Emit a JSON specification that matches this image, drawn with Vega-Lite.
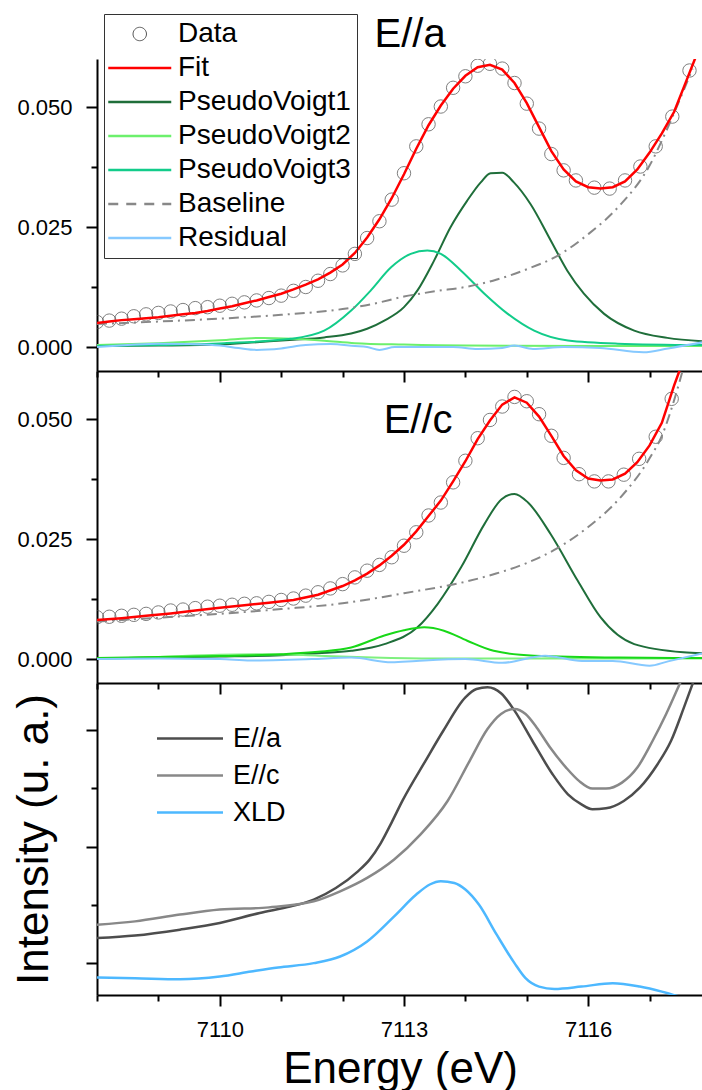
{
  "$schema": "https://vega.github.io/schema/vega-lite/v6.json",
  "padding": {"left": 11, "top": 13, "right": 0, "bottom": 0},
  "spacing": 0,
  "bounds": "flush",
  "config": {
    "font": "Liberation Sans",
    "view": {"stroke": null},
    "axis": {
      "domainColor": "black", "domainWidth": 2, "tickColor": "black", "tickWidth": 2,
      "labelFont": "Liberation Sans", "labelFontSize": 22, "labelColor": "black",
      "titleFont": "Liberation Sans", "titleFontSize": 44, "titleFontWeight": "normal", "titleColor": "black",
      "grid": false
    }
  },
  "resolve": {"scale": {"y": "independent", "color": "independent"}},
  "datasets": {
    "p1": [
      {"s":"Data","E":7108.0,"v":0.0052},{"s":"Data","E":7108.2,"v":0.0055},{"s":"Data","E":7108.4,"v":0.0059},{"s":"Data","E":7108.6,"v":0.0064},{"s":"Data","E":7108.8,"v":0.0068},{"s":"Data","E":7109.0,"v":0.0071},{"s":"Data","E":7109.2,"v":0.0074},{"s":"Data","E":7109.4,"v":0.0077},{"s":"Data","E":7109.6,"v":0.0081},{"s":"Data","E":7109.8,"v":0.0083},{"s":"Data","E":7110.0,"v":0.0086},{"s":"Data","E":7110.2,"v":0.0090},{"s":"Data","E":7110.4,"v":0.0093},{"s":"Data","E":7110.6,"v":0.0097},{"s":"Data","E":7110.8,"v":0.0102},{"s":"Data","E":7111.0,"v":0.0107},{"s":"Data","E":7111.2,"v":0.0117},{"s":"Data","E":7111.4,"v":0.0125},{"s":"Data","E":7111.6,"v":0.0138},{"s":"Data","E":7111.8,"v":0.0152},{"s":"Data","E":7112.0,"v":0.0170},{"s":"Data","E":7112.2,"v":0.0194},{"s":"Data","E":7112.4,"v":0.0227},{"s":"Data","E":7112.6,"v":0.0262},{"s":"Data","E":7112.8,"v":0.0307},{"s":"Data","E":7113.0,"v":0.0362},{"s":"Data","E":7113.2,"v":0.0418},{"s":"Data","E":7113.4,"v":0.0464},{"s":"Data","E":7113.6,"v":0.0501},{"s":"Data","E":7113.8,"v":0.0540},{"s":"Data","E":7114.0,"v":0.0564},{"s":"Data","E":7114.2,"v":0.0586},{"s":"Data","E":7114.4,"v":0.0590},{"s":"Data","E":7114.6,"v":0.0580},{"s":"Data","E":7114.8,"v":0.0550},{"s":"Data","E":7115.0,"v":0.0507},{"s":"Data","E":7115.2,"v":0.0455},{"s":"Data","E":7115.4,"v":0.0402},{"s":"Data","E":7115.6,"v":0.0368},{"s":"Data","E":7115.8,"v":0.0347},{"s":"Data","E":7116.1,"v":0.0332},{"s":"Data","E":7116.35,"v":0.0330},{"s":"Data","E":7116.6,"v":0.0347},{"s":"Data","E":7116.85,"v":0.0376},{"s":"Data","E":7117.1,"v":0.0418},{"s":"Data","E":7117.37,"v":0.0480},{"s":"Data","E":7117.65,"v":0.0576},
      {"s":"Fit","E":7108.0,"v":0.0050},{"s":"Fit","E":7108.2,"v":0.0053},{"s":"Fit","E":7108.4,"v":0.0056},{"s":"Fit","E":7108.6,"v":0.0058},{"s":"Fit","E":7108.8,"v":0.0060},{"s":"Fit","E":7109.0,"v":0.0062},{"s":"Fit","E":7109.2,"v":0.0065},{"s":"Fit","E":7109.4,"v":0.0068},{"s":"Fit","E":7109.6,"v":0.0071},{"s":"Fit","E":7109.8,"v":0.0075},{"s":"Fit","E":7110.0,"v":0.0080},{"s":"Fit","E":7110.2,"v":0.0085},{"s":"Fit","E":7110.4,"v":0.0091},{"s":"Fit","E":7110.6,"v":0.0097},{"s":"Fit","E":7110.8,"v":0.0104},{"s":"Fit","E":7111.0,"v":0.0111},{"s":"Fit","E":7111.2,"v":0.0120},{"s":"Fit","E":7111.4,"v":0.0130},{"s":"Fit","E":7111.6,"v":0.0141},{"s":"Fit","E":7111.8,"v":0.0155},{"s":"Fit","E":7112.0,"v":0.0172},{"s":"Fit","E":7112.2,"v":0.0196},{"s":"Fit","E":7112.4,"v":0.0228},{"s":"Fit","E":7112.6,"v":0.0266},{"s":"Fit","E":7112.8,"v":0.0310},{"s":"Fit","E":7113.0,"v":0.0360},{"s":"Fit","E":7113.2,"v":0.0413},{"s":"Fit","E":7113.4,"v":0.0462},{"s":"Fit","E":7113.6,"v":0.0503},{"s":"Fit","E":7113.8,"v":0.0538},{"s":"Fit","E":7114.0,"v":0.0565},{"s":"Fit","E":7114.2,"v":0.0583},{"s":"Fit","E":7114.4,"v":0.0588},{"s":"Fit","E":7114.6,"v":0.0578},{"s":"Fit","E":7114.8,"v":0.0550},{"s":"Fit","E":7115.0,"v":0.0508},{"s":"Fit","E":7115.2,"v":0.0458},{"s":"Fit","E":7115.4,"v":0.0408},{"s":"Fit","E":7115.6,"v":0.0370},{"s":"Fit","E":7115.8,"v":0.0345},{"s":"Fit","E":7116.0,"v":0.0333},{"s":"Fit","E":7116.2,"v":0.0330},{"s":"Fit","E":7116.4,"v":0.0333},{"s":"Fit","E":7116.6,"v":0.0345},{"s":"Fit","E":7116.8,"v":0.0370},{"s":"Fit","E":7117.0,"v":0.0405},{"s":"Fit","E":7117.2,"v":0.0445},{"s":"Fit","E":7117.4,"v":0.0490},{"s":"Fit","E":7117.6,"v":0.0555},{"s":"Fit","E":7117.8,"v":0.0620},
      {"s":"Baseline","E":7108.0,"v":0.0048},{"s":"Baseline","E":7109.0,"v":0.0053},{"s":"Baseline","E":7110.0,"v":0.0059},{"s":"Baseline","E":7111.0,"v":0.0067},{"s":"Baseline","E":7111.5,"v":0.0072},{"s":"Baseline","E":7112.0,"v":0.0079},{"s":"Baseline","E":7112.5,"v":0.0090},{"s":"Baseline","E":7113.0,"v":0.0105},{"s":"Baseline","E":7113.5,"v":0.0116},{"s":"Baseline","E":7114.0,"v":0.0125},{"s":"Baseline","E":7114.5,"v":0.0140},{"s":"Baseline","E":7115.0,"v":0.0162},{"s":"Baseline","E":7115.5,"v":0.0190},{"s":"Baseline","E":7116.0,"v":0.0235},{"s":"Baseline","E":7116.5,"v":0.0293},{"s":"Baseline","E":7117.0,"v":0.0378},{"s":"Baseline","E":7117.25,"v":0.0444},{"s":"Baseline","E":7117.5,"v":0.0518},{"s":"Baseline","E":7117.7,"v":0.0580},
      {"s":"PseudoVoigt1","E":7108.0,"v":0.0002},{"s":"PseudoVoigt1","E":7109.0,"v":0.0003},{"s":"PseudoVoigt1","E":7110.0,"v":0.0005},{"s":"PseudoVoigt1","E":7110.6,"v":0.0010},{"s":"PseudoVoigt1","E":7111.2,"v":0.0015},{"s":"PseudoVoigt1","E":7111.7,"v":0.0020},{"s":"PseudoVoigt1","E":7112.14,"v":0.0028},{"s":"PseudoVoigt1","E":7112.4,"v":0.0038},{"s":"PseudoVoigt1","E":7112.68,"v":0.0055},{"s":"PseudoVoigt1","E":7113.0,"v":0.0083},{"s":"PseudoVoigt1","E":7113.22,"v":0.0118},{"s":"PseudoVoigt1","E":7113.49,"v":0.0180},{"s":"PseudoVoigt1","E":7113.76,"v":0.0250},{"s":"PseudoVoigt1","E":7114.03,"v":0.0305},{"s":"PseudoVoigt1","E":7114.25,"v":0.0343},{"s":"PseudoVoigt1","E":7114.41,"v":0.0362},{"s":"PseudoVoigt1","E":7114.6,"v":0.0363},{"s":"PseudoVoigt1","E":7114.79,"v":0.0343},{"s":"PseudoVoigt1","E":7115.06,"v":0.0298},{"s":"PseudoVoigt1","E":7115.39,"v":0.0222},{"s":"PseudoVoigt1","E":7115.66,"v":0.0159},{"s":"PseudoVoigt1","E":7115.93,"v":0.0111},{"s":"PseudoVoigt1","E":7116.26,"v":0.0069},{"s":"PseudoVoigt1","E":7116.75,"v":0.0034},{"s":"PseudoVoigt1","E":7117.29,"v":0.0019},{"s":"PseudoVoigt1","E":7117.87,"v":0.0012},
      {"s":"PseudoVoigt2","E":7108.0,"v":0.0004},{"s":"PseudoVoigt2","E":7109.0,"v":0.0008},{"s":"PseudoVoigt2","E":7110.0,"v":0.0014},{"s":"PseudoVoigt2","E":7110.7,"v":0.0019},{"s":"PseudoVoigt2","E":7111.2,"v":0.0017},{"s":"PseudoVoigt2","E":7111.7,"v":0.0013},{"s":"PseudoVoigt2","E":7112.2,"v":0.0008},{"s":"PseudoVoigt2","E":7113.0,"v":0.0005},{"s":"PseudoVoigt2","E":7114.0,"v":0.0003},{"s":"PseudoVoigt2","E":7117.87,"v":0.0002},
      {"s":"PseudoVoigt3","E":7108.0,"v":0.0002},{"s":"PseudoVoigt3","E":7109.0,"v":0.0004},{"s":"PseudoVoigt3","E":7110.07,"v":0.0008},{"s":"PseudoVoigt3","E":7111.16,"v":0.0017},{"s":"PseudoVoigt3","E":7111.7,"v":0.0034},{"s":"PseudoVoigt3","E":7112.14,"v":0.0076},{"s":"PseudoVoigt3","E":7112.46,"v":0.0118},{"s":"PseudoVoigt3","E":7112.79,"v":0.0166},{"s":"PseudoVoigt3","E":7113.11,"v":0.0194},{"s":"PseudoVoigt3","E":7113.38,"v":0.0201},{"s":"PseudoVoigt3","E":7113.6,"v":0.0194},{"s":"PseudoVoigt3","E":7113.93,"v":0.0159},{"s":"PseudoVoigt3","E":7114.31,"v":0.0111},{"s":"PseudoVoigt3","E":7114.69,"v":0.0069},{"s":"PseudoVoigt3","E":7115.12,"v":0.0034},{"s":"PseudoVoigt3","E":7115.67,"v":0.00135},{"s":"PseudoVoigt3","E":7116.48,"v":0.0007},{"s":"PseudoVoigt3","E":7117.87,"v":0.0004},
      {"s":"Residual","E":7108.0,"v":0.0000},{"s":"Residual","E":7108.5,"v":0.0004},{"s":"Residual","E":7109.0,"v":0.0007},{"s":"Residual","E":7109.5,"v":0.0006},{"s":"Residual","E":7110.0,"v":0.0003},{"s":"Residual","E":7110.3,"v":-0.0002},{"s":"Residual","E":7110.6,"v":-0.0006},{"s":"Residual","E":7111.0,"v":-0.0003},{"s":"Residual","E":7111.4,"v":0.0004},{"s":"Residual","E":7111.8,"v":0.0006},{"s":"Residual","E":7112.2,"v":0.0002},{"s":"Residual","E":7112.4,"v":0.0000},{"s":"Residual","E":7112.6,"v":-0.0006},{"s":"Residual","E":7112.85,"v":0.0000},{"s":"Residual","E":7113.2,"v":0.0000},{"s":"Residual","E":7113.8,"v":0.0000},{"s":"Residual","E":7114.2,"v":-0.0004},{"s":"Residual","E":7114.6,"v":-0.0002},{"s":"Residual","E":7114.8,"v":0.0003},{"s":"Residual","E":7115.1,"v":-0.0004},{"s":"Residual","E":7115.6,"v":0.0000},{"s":"Residual","E":7116.2,"v":-0.0002},{"s":"Residual","E":7116.9,"v":-0.0011},{"s":"Residual","E":7117.3,"v":-0.0003},{"s":"Residual","E":7117.87,"v":0.0010}
    ],
    "p2": [
      {"s":"Data","E":7108.0,"v":0.0087},{"s":"Data","E":7108.2,"v":0.0088},{"s":"Data","E":7108.4,"v":0.0090},{"s":"Data","E":7108.6,"v":0.0092},{"s":"Data","E":7108.8,"v":0.0094},{"s":"Data","E":7109.0,"v":0.0097},{"s":"Data","E":7109.2,"v":0.0101},{"s":"Data","E":7109.4,"v":0.0103},{"s":"Data","E":7109.6,"v":0.0106},{"s":"Data","E":7109.8,"v":0.0109},{"s":"Data","E":7110.0,"v":0.0111},{"s":"Data","E":7110.2,"v":0.0113},{"s":"Data","E":7110.4,"v":0.0115},{"s":"Data","E":7110.6,"v":0.0116},{"s":"Data","E":7110.8,"v":0.0119},{"s":"Data","E":7111.0,"v":0.0123},{"s":"Data","E":7111.2,"v":0.0126},{"s":"Data","E":7111.4,"v":0.0132},{"s":"Data","E":7111.6,"v":0.0139},{"s":"Data","E":7111.8,"v":0.0147},{"s":"Data","E":7112.0,"v":0.0156},{"s":"Data","E":7112.2,"v":0.0170},{"s":"Data","E":7112.4,"v":0.0184},{"s":"Data","E":7112.6,"v":0.0196},{"s":"Data","E":7112.8,"v":0.0212},{"s":"Data","E":7113.0,"v":0.0236},{"s":"Data","E":7113.2,"v":0.0264},{"s":"Data","E":7113.4,"v":0.0299},{"s":"Data","E":7113.6,"v":0.0326},{"s":"Data","E":7113.8,"v":0.0368},{"s":"Data","E":7114.0,"v":0.0413},{"s":"Data","E":7114.2,"v":0.0460},{"s":"Data","E":7114.4,"v":0.0498},{"s":"Data","E":7114.6,"v":0.0526},{"s":"Data","E":7114.8,"v":0.0546},{"s":"Data","E":7115.0,"v":0.0537},{"s":"Data","E":7115.2,"v":0.0510},{"s":"Data","E":7115.4,"v":0.0465},{"s":"Data","E":7115.6,"v":0.0419},{"s":"Data","E":7115.85,"v":0.0385},{"s":"Data","E":7116.1,"v":0.0370},{"s":"Data","E":7116.33,"v":0.0370},{"s":"Data","E":7116.58,"v":0.0384},{"s":"Data","E":7116.83,"v":0.0417},{"s":"Data","E":7117.1,"v":0.0463},{"s":"Data","E":7117.36,"v":0.0542},
      {"s":"Fit","E":7108.0,"v":0.0081},{"s":"Fit","E":7108.4,"v":0.0085},{"s":"Fit","E":7108.8,"v":0.0090},{"s":"Fit","E":7109.2,"v":0.0095},{"s":"Fit","E":7109.6,"v":0.0101},{"s":"Fit","E":7110.0,"v":0.0107},{"s":"Fit","E":7110.4,"v":0.0112},{"s":"Fit","E":7110.8,"v":0.0117},{"s":"Fit","E":7111.2,"v":0.0123},{"s":"Fit","E":7111.6,"v":0.0134},{"s":"Fit","E":7112.0,"v":0.0152},{"s":"Fit","E":7112.2,"v":0.0164},{"s":"Fit","E":7112.4,"v":0.0178},{"s":"Fit","E":7112.6,"v":0.0195},{"s":"Fit","E":7112.8,"v":0.0215},{"s":"Fit","E":7113.0,"v":0.0238},{"s":"Fit","E":7113.2,"v":0.0266},{"s":"Fit","E":7113.4,"v":0.0298},{"s":"Fit","E":7113.6,"v":0.0330},{"s":"Fit","E":7113.8,"v":0.0370},{"s":"Fit","E":7114.0,"v":0.0412},{"s":"Fit","E":7114.2,"v":0.0458},{"s":"Fit","E":7114.4,"v":0.0497},{"s":"Fit","E":7114.6,"v":0.0530},{"s":"Fit","E":7114.8,"v":0.0545},{"s":"Fit","E":7115.0,"v":0.0534},{"s":"Fit","E":7115.2,"v":0.0505},{"s":"Fit","E":7115.4,"v":0.0465},{"s":"Fit","E":7115.6,"v":0.0423},{"s":"Fit","E":7115.8,"v":0.0393},{"s":"Fit","E":7116.0,"v":0.0376},{"s":"Fit","E":7116.2,"v":0.0372},{"s":"Fit","E":7116.4,"v":0.0374},{"s":"Fit","E":7116.6,"v":0.0386},{"s":"Fit","E":7116.8,"v":0.0410},{"s":"Fit","E":7117.0,"v":0.0445},{"s":"Fit","E":7117.2,"v":0.0492},{"s":"Fit","E":7117.4,"v":0.0570},{"s":"Fit","E":7117.6,"v":0.0640},
      {"s":"Baseline","E":7108.0,"v":0.0078},{"s":"Baseline","E":7109.0,"v":0.0086},{"s":"Baseline","E":7110.0,"v":0.0094},{"s":"Baseline","E":7111.0,"v":0.0104},{"s":"Baseline","E":7112.0,"v":0.0116},{"s":"Baseline","E":7113.0,"v":0.0137},{"s":"Baseline","E":7114.0,"v":0.0161},{"s":"Baseline","E":7114.5,"v":0.0178},{"s":"Baseline","E":7115.0,"v":0.0200},{"s":"Baseline","E":7115.5,"v":0.0231},{"s":"Baseline","E":7116.0,"v":0.0275},{"s":"Baseline","E":7116.5,"v":0.0333},{"s":"Baseline","E":7117.0,"v":0.0418},{"s":"Baseline","E":7117.2,"v":0.0465},{"s":"Baseline","E":7117.43,"v":0.0552},{"s":"Baseline","E":7117.6,"v":0.0630},
      {"s":"PV1","E":7108.0,"v":0.0001},{"s":"PV1","E":7109.0,"v":0.0003},{"s":"PV1","E":7110.0,"v":0.0005},{"s":"PV1","E":7111.0,"v":0.0008},{"s":"PV1","E":7111.6,"v":0.0012},{"s":"PV1","E":7112.14,"v":0.0017},{"s":"PV1","E":7112.68,"v":0.0031},{"s":"PV1","E":7113.22,"v":0.0066},{"s":"PV1","E":7113.55,"v":0.0115},{"s":"PV1","E":7113.93,"v":0.0191},{"s":"PV1","E":7114.31,"v":0.0281},{"s":"PV1","E":7114.59,"v":0.0333},{"s":"PV1","E":7114.8,"v":0.0344},{"s":"PV1","E":7115.02,"v":0.0326},{"s":"PV1","E":7115.39,"v":0.0260},{"s":"PV1","E":7115.83,"v":0.0163},{"s":"PV1","E":7116.2,"v":0.0087},{"s":"PV1","E":7116.75,"v":0.0031},{"s":"PV1","E":7117.55,"v":0.0014},{"s":"PV1","E":7117.87,"v":0.0012},
      {"s":"PV2","E":7108.0,"v":0.0000},{"s":"PV2","E":7109.0,"v":0.0004},{"s":"PV2","E":7110.0,"v":0.0009},{"s":"PV2","E":7110.8,"v":0.0010},{"s":"PV2","E":7111.6,"v":0.0007},{"s":"PV2","E":7112.5,"v":0.0003},{"s":"PV2","E":7113.5,"v":0.0001},{"s":"PV2","E":7117.87,"v":0.0001},
      {"s":"PV3","E":7108.0,"v":0.0002},{"s":"PV3","E":7109.0,"v":0.0004},{"s":"PV3","E":7110.0,"v":0.0006},{"s":"PV3","E":7111.0,"v":0.0010},{"s":"PV3","E":7111.6,"v":0.0015},{"s":"PV3","E":7112.14,"v":0.0024},{"s":"PV3","E":7112.68,"v":0.0049},{"s":"PV3","E":7113.0,"v":0.0060},{"s":"PV3","E":7113.33,"v":0.0066},{"s":"PV3","E":7113.65,"v":0.0059},{"s":"PV3","E":7114.03,"v":0.0038},{"s":"PV3","E":7114.46,"v":0.0017},{"s":"PV3","E":7115.12,"v":0.0007},{"s":"PV3","E":7116.5,"v":0.0003},{"s":"PV3","E":7117.87,"v":0.0002},
      {"s":"Residual","E":7108.0,"v":0.0000},{"s":"Residual","E":7109.0,"v":0.0001},{"s":"Residual","E":7110.0,"v":0.0000},{"s":"Residual","E":7110.5,"v":-0.0003},{"s":"Residual","E":7111.0,"v":-0.0002},{"s":"Residual","E":7111.5,"v":0.0000},{"s":"Residual","E":7112.14,"v":0.0003},{"s":"Residual","E":7112.8,"v":-0.0007},{"s":"Residual","E":7113.2,"v":-0.0004},{"s":"Residual","E":7114.0,"v":0.0000},{"s":"Residual","E":7114.6,"v":-0.0008},{"s":"Residual","E":7115.3,"v":0.0007},{"s":"Residual","E":7115.9,"v":-0.0004},{"s":"Residual","E":7116.4,"v":-0.0004},{"s":"Residual","E":7117.0,"v":-0.0014},{"s":"Residual","E":7117.3,"v":-0.0005},{"s":"Residual","E":7117.87,"v":0.0012}
    ],
    "p3": [
      {"s":"E//a","E":7108.0,"u":0.218},{"s":"E//a","E":7108.62,"u":0.24},{"s":"E//a","E":7109.35,"u":0.29},{"s":"E//a","E":7110.0,"u":0.347},{"s":"E//a","E":7110.65,"u":0.433},{"s":"E//a","E":7111.16,"u":0.49},{"s":"E//a","E":7111.53,"u":0.548},{"s":"E//a","E":7111.89,"u":0.647},{"s":"E//a","E":7112.25,"u":0.79},{"s":"E//a","E":7112.44,"u":0.89},{"s":"E//a","E":7112.62,"u":1.03},{"s":"E//a","E":7112.8,"u":1.21},{"s":"E//a","E":7112.98,"u":1.40},{"s":"E//a","E":7113.35,"u":1.737},{"s":"E//a","E":7113.64,"u":1.995},{"s":"E//a","E":7114.0,"u":2.281},{"s":"E//a","E":7114.18,"u":2.353},{"s":"E//a","E":7114.36,"u":2.367},{"s":"E//a","E":7114.58,"u":2.316},{"s":"E//a","E":7114.8,"u":2.167},{"s":"E//a","E":7115.09,"u":1.909},{"s":"E//a","E":7115.42,"u":1.622},{"s":"E//a","E":7115.67,"u":1.45},{"s":"E//a","E":7115.89,"u":1.364},{"s":"E//a","E":7116.07,"u":1.322},{"s":"E//a","E":7116.29,"u":1.33},{"s":"E//a","E":7116.58,"u":1.393},{"s":"E//a","E":7116.84,"u":1.507},{"s":"E//a","E":7117.13,"u":1.708},{"s":"E//a","E":7117.35,"u":1.909},{"s":"E//a","E":7117.56,"u":2.195},{"s":"E//a","E":7117.72,"u":2.425},{"s":"E//a","E":7117.87,"u":2.65},
      {"s":"E//c","E":7108.0,"u":0.333},{"s":"E//c","E":7108.62,"u":0.361},{"s":"E//c","E":7109.35,"u":0.419},{"s":"E//c","E":7110.0,"u":0.462},{"s":"E//c","E":7110.8,"u":0.481},{"s":"E//c","E":7111.53,"u":0.533},{"s":"E//c","E":7111.96,"u":0.619},{"s":"E//c","E":7112.4,"u":0.734},{"s":"E//c","E":7112.84,"u":0.892},{"s":"E//c","E":7113.27,"u":1.107},{"s":"E//c","E":7113.71,"u":1.393},{"s":"E//c","E":7114.07,"u":1.737},{"s":"E//c","E":7114.36,"u":2.009},{"s":"E//c","E":7114.58,"u":2.138},{"s":"E//c","E":7114.8,"u":2.181},{"s":"E//c","E":7114.98,"u":2.138},{"s":"E//c","E":7115.16,"u":2.023},{"s":"E//c","E":7115.38,"u":1.851},{"s":"E//c","E":7115.64,"u":1.679},{"s":"E//c","E":7115.85,"u":1.565},{"s":"E//c","E":7116.07,"u":1.499},{"s":"E//c","E":7116.29,"u":1.499},{"s":"E//c","E":7116.55,"u":1.55},{"s":"E//c","E":7116.8,"u":1.679},{"s":"E//c","E":7117.05,"u":1.909},{"s":"E//c","E":7117.27,"u":2.138},{"s":"E//c","E":7117.49,"u":2.396},{"s":"E//c","E":7117.7,"u":2.65},
      {"s":"XLD","E":7108.0,"u":-0.12},{"s":"XLD","E":7108.62,"u":-0.126},{"s":"XLD","E":7109.35,"u":-0.135},{"s":"XLD","E":7110.0,"u":-0.112},{"s":"XLD","E":7110.51,"u":-0.069},{"s":"XLD","E":7110.95,"u":-0.034},{"s":"XLD","E":7111.53,"u":0.003},{"s":"XLD","E":7111.96,"u":0.06},{"s":"XLD","E":7112.4,"u":0.189},{"s":"XLD","E":7112.84,"u":0.404},{"s":"XLD","E":7113.2,"u":0.591},{"s":"XLD","E":7113.42,"u":0.677},{"s":"XLD","E":7113.6,"u":0.705},{"s":"XLD","E":7113.82,"u":0.69},{"s":"XLD","E":7114.0,"u":0.634},{"s":"XLD","E":7114.22,"u":0.505},{"s":"XLD","E":7114.51,"u":0.247},{"s":"XLD","E":7114.8,"u":0.003},{"s":"XLD","E":7114.98,"u":-0.126},{"s":"XLD","E":7115.2,"u":-0.198},{"s":"XLD","E":7115.45,"u":-0.218},{"s":"XLD","E":7115.89,"u":-0.198},{"s":"XLD","E":7116.4,"u":-0.169},{"s":"XLD","E":7116.84,"u":-0.198},{"s":"XLD","E":7117.2,"u":-0.241},{"s":"XLD","E":7117.49,"u":-0.284}
    ]
  },
  "vconcat": [
    {
      "width": 606, "height": 312,
      "data": {"name": "p1"},
      "encoding": {
        "x": {"field": "E", "type": "quantitative", "scale": {"domain": [7108, 7117.87], "nice": false, "zero": false},
              "axis": {"title": null, "labels": false, "values": [7108,7109,7110,7111,7112,7113,7114,7115,7116,7117],
                       "tickSize": {"condition": {"test": "(datum.value - 7110) % 3 === 0", "value": 11}, "value": 6}}},
        "y": {"field": "v", "type": "quantitative", "scale": {"domain": [-0.005, 0.06], "nice": false, "zero": false},
              "axis": {"title": null, "values": [0, 0.0125, 0.025, 0.0375, 0.05], "format": ".3f", "labelPadding": 14,
                       "labelExpr": "round(datum.value*1000) % 25 === 0 ? datum.label : ''",
                       "tickSize": {"condition": {"test": "round(datum.value*1000) % 25 === 0", "value": 11}, "value": 6}}},
        "color": {"field": "s", "type": "nominal",
                  "scale": {"domain": ["Data","Fit","PseudoVoigt1","PseudoVoigt2","PseudoVoigt3","Baseline","Residual"],
                            "range": ["#555555","#ff0000","#1f6e3a","#6cf06c","#12cc8a","#888888","#86c9ff"]},
                  "legend": {"orient": "none", "legendX": 7, "legendY": -45, "title": null,
                             "strokeColor": "#333333", "padding": 6, "labelFontSize": 28, "labelFont": "Liberation Sans", "labelColor": "black", "labelLimit": 400,
                             "symbolSize": 441, "symbolStrokeWidth": 2.5, "rowPadding": 6, "labelOffset": 40,
                             "symbolType": "M-1.5,0H4.5",
                             "encode": {"symbols": {"update": {
                               "shape": {"signal": "datum.value === 'Data' ? 'M2.14,0A0.64,0.64,0,1,1,0.86,0A0.64,0.64,0,1,1,2.14,0Z' : 'M-1.5,0H4.5'"},
                               "strokeDash": {"signal": "datum.value === 'Baseline' ? [10,8] : [1,0]"},
                               "strokeWidth": {"signal": "datum.value === 'Data' ? 1 : 2.5"},
                               "fill": {"value": "transparent"}
                             }}}}}
      },
      "layer": [
        {"transform": [{"filter": "datum.s === 'Data'"}],
         "mark": {"type": "point", "filled": false, "size": 180, "strokeWidth": 1, "clip": true},
         "encoding": {"color": {"value": "#4a4a4a"}}},
        {"transform": [{"filter": "datum.s === 'PseudoVoigt1' || datum.s === 'PseudoVoigt2' || datum.s === 'PseudoVoigt3' || datum.s === 'Residual'"}],
         "mark": {"type": "line", "strokeWidth": 2, "interpolate": "monotone", "clip": true}},
        {"transform": [{"filter": "datum.s === 'Baseline'"}],
         "mark": {"type": "line", "strokeWidth": 2, "interpolate": "monotone", "strokeDash": [10, 5, 2, 5], "clip": true}},
        {"transform": [{"filter": "datum.s === 'Fit'"}],
         "mark": {"type": "line", "strokeWidth": 2.5, "clip": true}},
        {"transform": [{"filter": "datum.s === 'Data' && datum.E === 7108"}],
         "mark": {"type": "text", "text": "E//a", "fontSize": 40, "font": "Liberation Sans", "align": "center", "baseline": "alphabetic"},
         "encoding": {"x": {"datum": 7113.1}, "y": {"datum": 0.0624}, "color": {"value": "black"}}}
      ]
    },
    {
      "width": 606, "height": 312,
      "data": {"name": "p2"},
      "encoding": {
        "x": {"field": "E", "type": "quantitative", "scale": {"domain": [7108, 7117.87], "nice": false, "zero": false},
              "axis": {"title": null, "labels": false, "values": [7108,7109,7110,7111,7112,7113,7114,7115,7116,7117],
                       "tickSize": {"condition": {"test": "(datum.value - 7110) % 3 === 0", "value": 11}, "value": 6}}},
        "y": {"field": "v", "type": "quantitative", "scale": {"domain": [-0.005, 0.06], "nice": false, "zero": false},
              "axis": {"title": null, "values": [0, 0.0125, 0.025, 0.0375, 0.05], "format": ".3f", "labelPadding": 14,
                       "labelExpr": "round(datum.value*1000) % 25 === 0 ? datum.label : ''",
                       "tickSize": {"condition": {"test": "round(datum.value*1000) % 25 === 0", "value": 11}, "value": 6}}},
        "color": {"field": "s", "type": "nominal",
                  "scale": {"domain": ["Data","Fit","PV1","PV2","PV3","Baseline","Residual"],
                            "range": ["#555555","#ff0000","#1f6e3a","#7ff07f","#18d818","#888888","#86c9ff"]},
                  "legend": null}
      },
      "layer": [
        {"transform": [{"filter": "datum.s === 'Data'"}],
         "mark": {"type": "point", "filled": false, "size": 180, "strokeWidth": 1, "clip": true},
         "encoding": {"color": {"value": "#4a4a4a"}}},
        {"transform": [{"filter": "datum.s === 'PV1' || datum.s === 'PV2' || datum.s === 'PV3' || datum.s === 'Residual'"}],
         "mark": {"type": "line", "strokeWidth": 2, "interpolate": "monotone", "clip": true}},
        {"transform": [{"filter": "datum.s === 'Baseline'"}],
         "mark": {"type": "line", "strokeWidth": 2, "interpolate": "monotone", "strokeDash": [10, 5, 2, 5], "clip": true}},
        {"transform": [{"filter": "datum.s === 'Fit'"}],
         "mark": {"type": "line", "strokeWidth": 2.5, "clip": true}},
        {"transform": [{"filter": "datum.s === 'Data' && datum.E === 7108"}],
         "mark": {"type": "text", "text": "E//c", "fontSize": 40, "font": "Liberation Sans", "align": "center", "baseline": "alphabetic"},
         "encoding": {"x": {"datum": 7113.23}, "y": {"datum": 0.0471}, "color": {"value": "black"}}}
      ]
    },
    {
      "width": 606, "height": 312,
      "data": {"name": "p3"},
      "mark": {"type": "line", "strokeWidth": 2.5, "interpolate": "monotone", "clip": true},
      "encoding": {
        "x": {"field": "E", "type": "quantitative", "scale": {"domain": [7108, 7117.87], "nice": false, "zero": false},
              "axis": {"title": "Energy (eV)", "titlePadding": 7, "labelPadding": 13, "values": [7108,7109,7110,7111,7112,7113,7114,7115,7116,7117],
                       "labelExpr": "(datum.value - 7110) % 3 === 0 ? datum.label : ''", "format": "d",
                       "tickSize": {"condition": {"test": "(datum.value - 7110) % 3 === 0", "value": 11}, "value": 6}}},
        "y": {"field": "u", "type": "quantitative", "scale": {"domain": [-0.27, 2.404], "nice": false, "zero": false},
              "axis": {"title": "Intensity (u. a.)", "titlePadding": 29, "labels": false, "values": [0, 0.5, 1, 1.5, 2],
                       "tickSize": {"condition": {"test": "datum.value % 1 === 0", "value": 11}, "value": 6}}},
        "color": {"field": "s", "type": "nominal",
                  "scale": {"domain": ["E//a","E//c","XLD"], "range": ["#4d4d4d","#888888","#4db8ff"]},
                  "legend": {"orient": "none", "legendX": 63, "legendY": 42, "title": null,
                             "padding": 0, "labelFontSize": 27, "labelFont": "Liberation Sans", "labelColor": "black",
                             "symbolSize": 484, "symbolStrokeWidth": 2.5, "rowPadding": 9, "labelOffset": 46,
                             "symbolType": "M-1.5,0H4.5",
                             "encode": {"symbols": {"update": {"shape": {"value": "M-1.5,0H4.5"}, "fill": {"value": "transparent"}}}}}}
      }
    }
  ]
}
